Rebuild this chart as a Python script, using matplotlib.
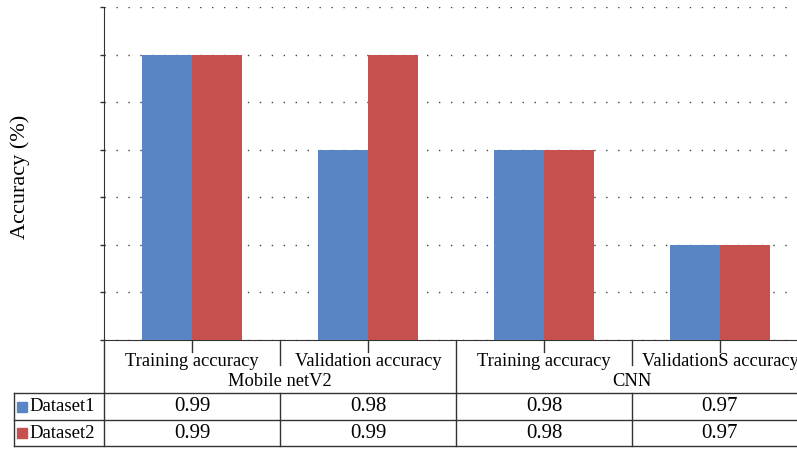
import matplotlib
matplotlib.use('Agg')
import matplotlib.pyplot as plt
import matplotlib.transforms as mtransforms
import numpy as np

categories = ['Training accuracy', 'Validation accuracy', 'Training accuracy', 'ValidationS accuracy']
groups = ['Mobile netV2', 'CNN']
series_names = ['Dataset1', 'Dataset2']
dataset1 = [0.99, 0.98, 0.98, 0.97]
dataset2 = [0.99, 0.99, 0.98, 0.97]
colors = ['#5886C4', '#C6504D']

plt.rcParams['font.family'] = ['Liberation Serif', 'DejaVu Serif']

fig = plt.figure(figsize=(7.97, 4.49), dpi=100)
W, H = 797, 449
ax = fig.add_axes([104 / W, 1 - 340 / H, 1 - 104 / W, 333 / H])

x = np.arange(len(categories))
bw = 0.284
ax.bar(x - bw / 2, dataset1, bw, color=colors[0], zorder=3)
ax.bar(x + bw / 2, dataset2, bw, color=colors[1], zorder=3)

ax.set_ylim(0.96, 0.995)
ax.set_xlim(-0.5, 3.4375)
ax.set_yticks(np.arange(0.96, 0.9951, 0.005))
ax.set_yticklabels([])
ax.set_xticks([])
ax.yaxis.grid(True, linestyle=(0, (1, 7.6)), color='#444444', linewidth=1)
ax.tick_params(axis='y', length=3, width=1, color='#333333')
for s in ['top', 'right']:
    ax.spines[s].set_visible(False)
ax.spines['left'].set_color('#333333')
ax.spines['bottom'].set_color('#333333')
ax.set_ylabel('Accuracy (%)', fontsize=16)
ax.yaxis.set_label_coords(-(104 - 30) / 693, 0.49)

# table under the axes
bl = mtransforms.blended_transform_factory(ax.transData, ax.transAxes)
px = 1 / 333
y_row1 = -53 * px
y_row2 = -80 * px
y_row3 = -106 * px
lc = '#333333'
lw = 1

def line(xs, ys, trans):
    ax.plot(xs, ys, color=lc, linewidth=lw, transform=trans, clip_on=False)

# ticks at category centres
for xi in x:
    line([xi, xi], [0, -12 * px], bl)
# separators inside groups (short in header, full in rows)
for xs in [0.5, 2.5]:
    line([xs, xs], [0, -25 * px], bl)
    line([xs, xs], [y_row1, y_row3], bl)
# separator between groups and left border
line([1.5, 1.5], [0, y_row3], bl)
line([-0.5, -0.5], [0, y_row3], bl)
# horizontal lines
xl = -90 / 693
line([xl, 1], [y_row1, y_row1], ax.transAxes)
line([xl, 1], [y_row2, y_row2], ax.transAxes)
line([xl, 1], [y_row3, y_row3], ax.transAxes)
line([xl, xl], [y_row1, y_row3], ax.transAxes)

fs = 13.3
for xi, c in enumerate(categories):
    ax.text(xi, -21 * px, c, ha='center', va='center', fontsize=fs, transform=bl, clip_on=False)
for gi, g in enumerate(groups):
    ax.text(0.5 + 2 * gi, -42 * px, g, ha='center', va='center', fontsize=fs, transform=bl, clip_on=False)

for ri, (name, vals) in enumerate(zip(series_names, [dataset1, dataset2])):
    yc = (y_row1 + y_row2) / 2 if ri == 0 else (y_row2 + y_row3) / 2
    for xi, v in enumerate(vals):
        ax.text(xi, yc, f'{v:.2f}', ha='center', va='center', fontsize=15, transform=bl, clip_on=False)
    ax.add_patch(plt.Rectangle((-87 / 693, yc - 5 * px), 10 / 693, 10 * px, color=colors[ri],
                               transform=ax.transAxes, clip_on=False))
    ax.text(-75 / 693, yc, name, ha='left', va='center', fontsize=13.5, transform=ax.transAxes, clip_on=False)

fig.savefig('out.png', dpi=100)
